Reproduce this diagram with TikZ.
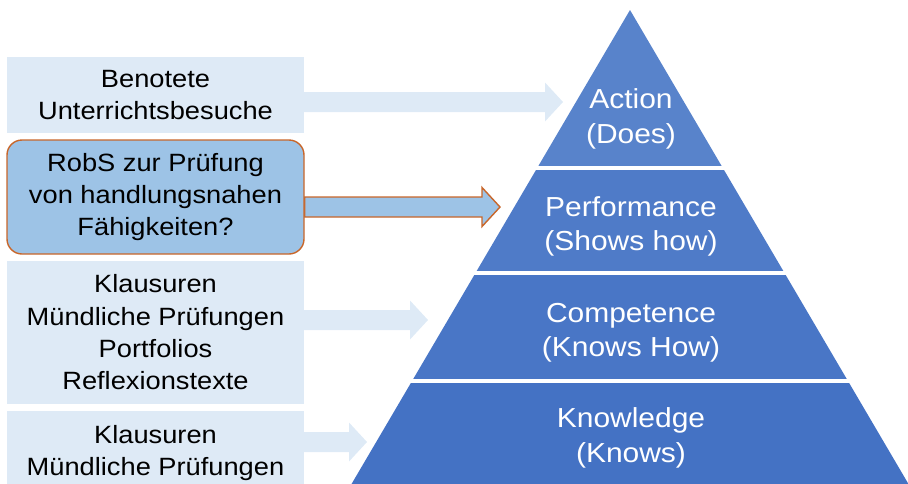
\documentclass[tikz,border=0pt]{standalone}
\usepackage{fontspec}
\newfontfamily\slidefont[FakeStretch=1.09]{Liberation Sans}
\usepackage{tikz}
\usetikzlibrary{calc,backgrounds}

\definecolor{paleblue}{HTML}{DEEAF6}
\definecolor{robsblue}{HTML}{9DC3E6}
\definecolor{robsrim}{HTML}{C8662A}
\definecolor{tierone}{HTML}{5883CB}
\definecolor{tiertwo}{HTML}{4F7BC8}
\definecolor{tierthree}{HTML}{4976C6}
\definecolor{tierfour}{HTML}{4472C4}

\newcommand{\blockarrow}[3]{%
  \path[#1] let \p1=(#2), \p2=(#3) in
    (\x1,\y2+\shafthalf) -- (\x2-\headlength,\y2+\shafthalf) -- (\x2-\headlength,\y2+\headhalf)
    -- (\x2,\y2) -- (\x2-\headlength,\y2-\headhalf) -- (\x2-\headlength,\y2-\shafthalf)
    -- (\x1,\y2-\shafthalf) -- cycle;}

\begin{document}
\begin{tikzpicture}[x=1pt,y=-1pt,
    methodbox/.style={fill=paleblue,minimum width=297pt,inner sep=0pt,align=center,font=\slidefont\boxfontsize},
    robsbox/.style={methodbox,fill=robsblue,draw=robsrim,line width=1.4pt,rounded corners=15pt},
    tierlabel/.style={align=center,text=white,font=\slidefont\tierfontsize},
    palearrow/.style={fill=paleblue},
    robsarrow/.style={fill=robsblue,draw=robsrim,line width=1.4pt}]
    \pgfmathsetlengthmacro{\shafthalf}{10pt}
    \pgfmathsetlengthmacro{\headhalf}{19.5pt}
    \pgfmathsetlengthmacro{\headlength}{18pt}
    \providecommand{\boxfontsize}{\fontsize{25pt}{32.3pt}\selectfont}
    \providecommand{\tierfontsize}{\fontsize{27.5pt}{34.5pt}\selectfont}
    \useasboundingbox (0,0) rectangle (908,483);
    % pyramid
    \begin{scope}
        \clip (630,10) -- (348,490) -- (912,490) -- cycle;
        \foreach \tiertop/\tierbottom/\tiershade in {10/166/tierone,170/271/tiertwo,275/379/tierthree,383/490/tierfour}
            \fill[\tiershade] (340,\tiertop) rectangle (920,\tierbottom);
    \end{scope}
    \node[tierlabel] (action) at (631,119) {Action\\(Does)};
    \node[tierlabel] (performance) at (631,226.5) {Performance\\(Shows how)};
    \node[tierlabel] (competence) at (631,332.5) {Competence\\(Knows How)};
    \node[tierlabel] (knowledge) at (631,438) {Knowledge\\(Knows)};
    % assessment boxes
    \node[methodbox,minimum height=76pt] (unterricht) at (155.5,95) {Benotete\\Unterrichtsbesuche};
    \node[robsbox,minimum height=114pt] (robs) at (155.5,197) {RobS zur Prüfung\\von handlungsnahen\\Fähigkeiten?};
    \node[methodbox,minimum height=143pt] (klausurenA) at (155.5,332.5) {Klausuren\\Mündliche Prüfungen\\Portfolios\\Reflexionstexte};
    \node[methodbox,minimum height=84pt] (klausurenB) at (155.5,453) {Klausuren\\Mündliche Prüfungen};
    \coordinate (tipaction) at (563,102);
    \coordinate (tipperformance) at (500,207);
    \coordinate (tipcompetence) at (428,320);
    \coordinate (tipknowledge) at (367,442);
    \begin{pgfonlayer}{background}
        \blockarrow{palearrow}{unterricht.east |- tipaction}{tipaction}
        \blockarrow{robsarrow}{robs.east |- tipperformance}{tipperformance}
        \blockarrow{palearrow}{klausurenA.east |- tipcompetence}{tipcompetence}
        \blockarrow{palearrow}{klausurenB.east |- tipknowledge}{tipknowledge}
    \end{pgfonlayer}
\end{tikzpicture}
\end{document}
